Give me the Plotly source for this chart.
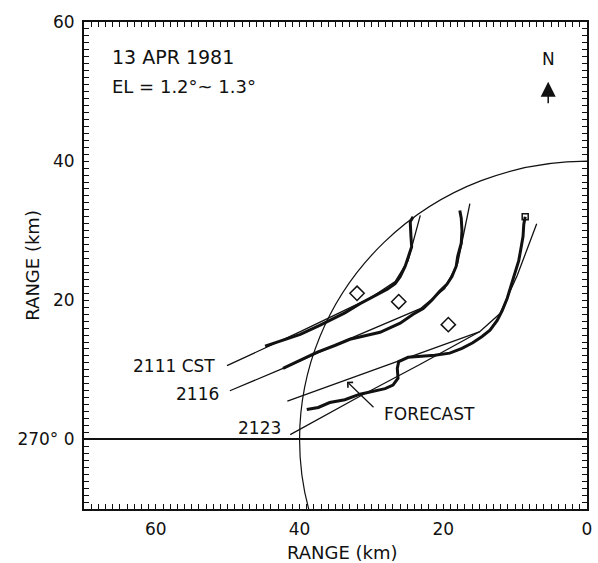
import plotly.graph_objects as go

# Gust-front echo positions (km west / km north of the radar), 13 April 1981
echo_2111_x = [44.8, 42.7, 39.9, 37.2, 35.3, 33.7, 31.6, 29.5, 27.8, 26.7, 26.0, 25.3, 24.8, 24.4, 24.5, 24.6, 24.2]
echo_2111_y = [13.4, 14.1, 15.1, 16.4, 17.4, 18.2, 19.5, 20.7, 21.6, 22.4, 23.4, 24.9, 26.3, 27.7, 29.2, 31.3, 32.0]

echo_2116_x = [42.3, 39.9, 37.6, 35.1, 33.0, 30.9, 28.8, 26.0, 24.2, 22.8, 21.6, 20.5, 19.5, 18.8, 18.2, 18.0, 17.5, 17.4, 17.5, 17.7]
echo_2116_y = [10.2, 11.4, 12.5, 13.5, 14.4, 14.9, 15.4, 16.7, 18.0, 18.8, 20.0, 21.3, 22.3, 23.4, 24.9, 26.3, 28.2, 30.0, 31.8, 32.9]

echo_2123_x = [39.0, 37.4, 35.8, 33.7, 31.6, 29.9, 28.1, 27.0, 26.3, 26.4, 26.2, 24.9, 23.2, 21.2, 19.1, 17.4, 15.9, 14.6,
               13.5, 12.5, 11.8, 11.1, 10.6, 10.0, 9.5, 9.2, 8.9, 8.8, 8.6]
echo_2123_y = [4.3, 4.6, 5.3, 5.7, 6.5, 6.9, 7.3, 7.8, 8.8, 10.2, 11.2, 11.8, 11.9, 12.1, 12.4, 13.1, 13.9, 14.8,
               15.7, 17.1, 18.5, 20.3, 22.0, 23.9, 25.7, 27.4, 29.2, 30.9, 32.0]

# Fitted front positions
fit_2111_x = [50.1, 39.9, 30.2, 26.7, 24.9, 23.2]
fit_2111_y = [10.6, 15.5, 20.3, 22.7, 25.7, 32.2]

fit_2116_x = [49.7, 42.3, 33.0, 23.2, 19.8, 18.0, 16.3]
fit_2116_y = [7.0, 10.2, 14.5, 18.8, 21.7, 25.3, 33.9]

fit_2123_x = [41.3, 31.6, 23.2, 14.9, 12.1, 9.7, 7.0]
fit_2123_y = [0.7, 6.2, 10.8, 15.5, 18.1, 23.6, 31.0]

# Forecast position of the front for 2123 CST
forecast_x = [41.7, 14.9]
forecast_y = [5.5, 15.5]

# Open diamonds
diamond_x = [32.0, 26.2, 19.3]
diamond_y = [21.0, 19.8, 16.5]

RING_RADIUS_KM = 40

x_tick_labels = {60: "60", 40: "40", 20: "20", 0: "0"}
y_tick_labels = {60: "60", 40: "40", 20: "20", 0: "270° 0"}

FONT = "DejaVu Sans"
INK = "#111111"

fig = go.Figure()

for xs, ys in [(fit_2111_x, fit_2111_y), (fit_2116_x, fit_2116_y),
               (fit_2123_x, fit_2123_y), (forecast_x, forecast_y)]:
    fig.add_trace(go.Scatter(x=xs, y=ys, mode="lines",
                             line=dict(color=INK, width=1.3), hoverinfo="skip"))

for xs, ys in [(echo_2111_x, echo_2111_y), (echo_2116_x, echo_2116_y), (echo_2123_x, echo_2123_y)]:
    fig.add_trace(go.Scatter(x=xs, y=ys, mode="lines",
                             line=dict(color=INK, width=3), hoverinfo="skip"))

fig.add_trace(go.Scatter(x=[echo_2123_x[-1]], y=[echo_2123_y[-1]], mode="markers",
                         marker=dict(symbol="square-open", size=6, color=INK, line=dict(width=1.5)),
                         hoverinfo="skip"))

fig.add_trace(go.Scatter(x=diamond_x, y=diamond_y, mode="markers",
                         marker=dict(symbol="diamond-open", size=11, color=INK, line=dict(width=1.5)),
                         hoverinfo="skip"))

# Range ring
fig.add_shape(type="circle", xref="x", yref="y",
              x0=-RING_RADIUS_KM, x1=RING_RADIUS_KM, y0=-RING_RADIUS_KM, y1=RING_RADIUS_KM,
              line=dict(color=INK, width=1.2), layer="below")

text_font = dict(family=FONT, size=17, color=INK)

fig.add_annotation(x=66.4, y=55.0, text="13 APR 1981", showarrow=False,
                   xanchor="left", yanchor="middle", font=dict(family=FONT, size=19, color=INK))
fig.add_annotation(x=66.4, y=50.7, text="EL = 1.2°~ 1.3°", showarrow=False,
                   xanchor="left", yanchor="middle", font=dict(family=FONT, size=18, color=INK))
fig.add_annotation(x=5.4, y=54.7, text="N", showarrow=False,
                   xanchor="center", yanchor="middle", font=dict(family=FONT, size=17, color=INK))
fig.add_annotation(x=5.4, y=51.4, ax=0, ay=23, text="", showarrow=True,
                   arrowhead=2, arrowsize=2.0, arrowwidth=1.5, arrowcolor=INK)

fig.add_annotation(x=51.5, y=10.6, text="2111 CST", showarrow=False,
                   xanchor="right", yanchor="middle", font=text_font)
fig.add_annotation(x=50.9, y=6.5, text="2116", showarrow=False,
                   xanchor="right", yanchor="middle", font=text_font)
fig.add_annotation(x=42.3, y=1.6, text="2123", showarrow=False,
                   xanchor="right", yanchor="middle", font=text_font)
fig.add_annotation(x=28.5, y=3.7, text="FORECAST", showarrow=False,
                   xanchor="left", yanchor="middle", font=dict(family=FONT, size=17, color=INK))
fig.add_annotation(x=33.4, y=8.3, ax=28, ay=27, text="", showarrow=True,
                   arrowhead=4, arrowsize=1.2, arrowwidth=1.2, arrowcolor=INK)

# Axis titles
title_font = dict(family=FONT, size=18, color=INK)
fig.add_annotation(xref="paper", yref="paper", x=0.514, y=-0.090, text="RANGE (km)",
                   showarrow=False, xanchor="center", yanchor="middle", font=title_font)
fig.add_annotation(xref="paper", yref="paper", x=-0.103, y=0.5, text="RANGE (km)",
                   showarrow=False, xanchor="center", yanchor="middle", textangle=-90, font=title_font)

axis_common = dict(
    ticks="inside", ticklen=5, tickwidth=1.3, tickcolor=INK,
    showline=True, linewidth=2, linecolor=INK, mirror="allticks",
    showgrid=False, tickfont=dict(family=FONT, size=17, color=INK),
    automargin=False,
)

fig.update_xaxes(range=[70, 0], tickvals=list(range(0, 71)),
                 ticktext=[x_tick_labels.get(v, "") for v in range(0, 71)],
                 zeroline=False, ticklabelstandoff=4, **axis_common)
fig.update_yaxes(range=[-10, 60], tickvals=list(range(-10, 61)),
                 ticktext=[y_tick_labels.get(v, "") for v in range(-10, 61)],
                 zeroline=True, zerolinecolor=INK, zerolinewidth=1.5,
                 ticklabelstandoff=4, **axis_common)

fig.update_layout(
    width=598, height=563,
    margin=dict(l=84, r=11, t=22, b=54),
    paper_bgcolor="white", plot_bgcolor="white",
    showlegend=False,
)

fig.write_html("out.html")
